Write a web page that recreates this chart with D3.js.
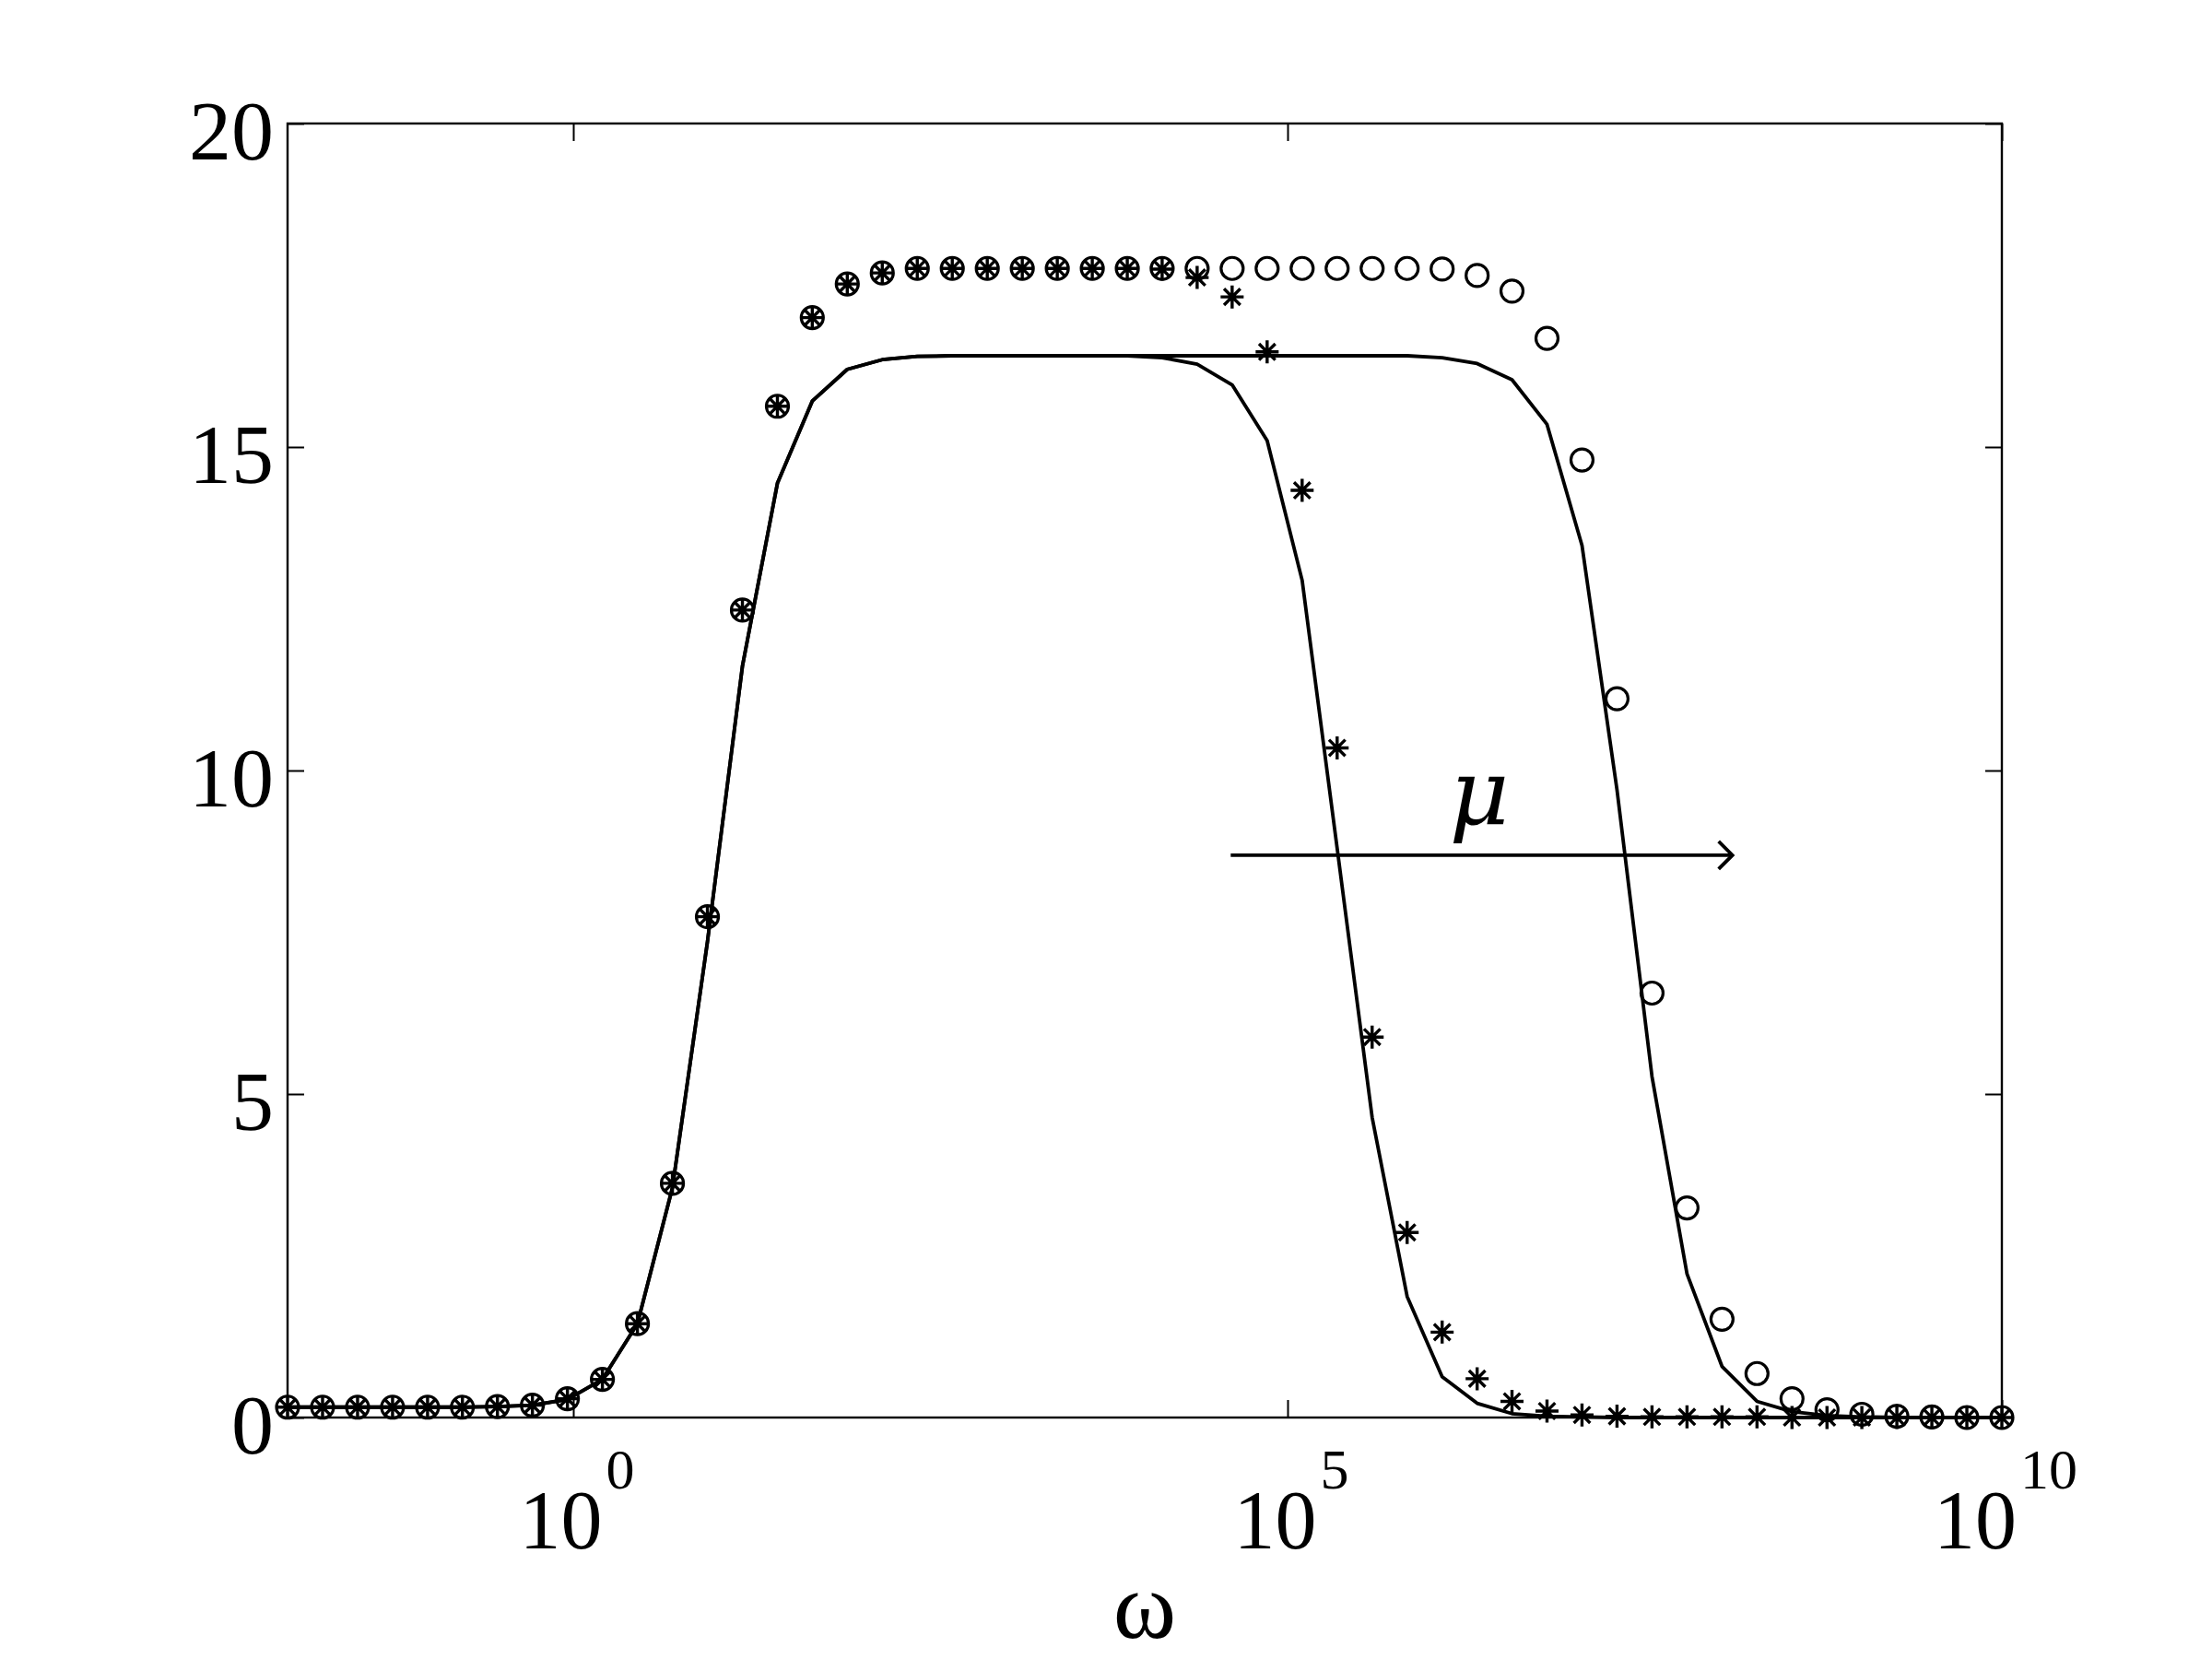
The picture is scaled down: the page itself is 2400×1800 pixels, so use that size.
<!DOCTYPE html>
<html>
<head>
<meta charset="utf-8">
<script src="https://cdn.jsdelivr.net/npm/d3@7"></script>
<style>
    body { margin: 0; background: #fff; }
    text { font-family: "Liberation Serif", "DejaVu Serif", serif; fill: #000; }
</style>
</head>
<body>
<svg id="chart" width="2400" height="1800"></svg>
<script>
const width = 2400;
const height = 1800;
const margin = { top: 134, right: 228, bottom: 262, left: 312 };

// log10(omega) of the sample points
const logOmega = [
    -2.000, -1.755, -1.510, -1.265, -1.020, -0.776, -0.531, -0.286, -0.041, 0.204,
    0.449, 0.694, 0.939, 1.184, 1.429, 1.673, 1.918, 2.163, 2.408, 2.653,
    2.898, 3.143, 3.388, 3.633, 3.878, 4.122, 4.367, 4.612, 4.857, 5.102,
    5.347, 5.592, 5.837, 6.082, 6.327, 6.571, 6.816, 7.061, 7.306, 7.551,
    7.796, 8.041, 8.286, 8.531, 8.776, 9.020, 9.265, 9.510, 9.755, 10.000
];

// markers "*" (smaller mu)
const starVals = [
    0.16, 0.16, 0.16, 0.16, 0.16, 0.16, 0.17, 0.19, 0.29, 0.59,
    1.45, 3.62, 7.74, 12.48, 15.63, 17.0, 17.52, 17.69, 17.76, 17.76,
    17.76, 17.76, 17.76, 17.76, 17.76, 17.75, 17.62, 17.32, 16.47, 14.33,
    10.35, 5.88, 2.86, 1.32, 0.60, 0.25, 0.10, 0.04, 0.02, 0.01,
    0.01, 0.01, 0.01, 0.0, 0.0, 0.0, 0.0, 0.0, 0.0, 0.0
];

// markers "o" (larger mu)
const circleVals = [
    0.16, 0.16, 0.16, 0.16, 0.16, 0.16, 0.17, 0.19, 0.29, 0.59,
    1.45, 3.62, 7.74, 12.48, 15.63, 17.0, 17.52, 17.69, 17.76, 17.76,
    17.76, 17.76, 17.76, 17.76, 17.76, 17.76, 17.76, 17.76, 17.76, 17.76,
    17.76, 17.76, 17.76, 17.75, 17.65, 17.41, 16.68, 14.80, 11.11, 6.56,
    3.24, 1.52, 0.68, 0.29, 0.12, 0.05, 0.02, 0.01, 0.0, 0.0
];

// solid curves
const lineLow = [
    0.16, 0.16, 0.16, 0.16, 0.16, 0.16, 0.17, 0.19, 0.28, 0.59,
    1.45, 3.55, 7.35, 11.61, 14.44, 15.71, 16.20, 16.35, 16.40, 16.41,
    16.41, 16.41, 16.41, 16.41, 16.41, 16.38, 16.28, 15.96, 15.10, 12.94,
    8.80, 4.64, 1.87, 0.63, 0.22, 0.06, 0.02, 0.01, 0.0, 0.0,
    0.0, 0.0, 0.0, 0.0, 0.0, 0.0, 0.0, 0.0, 0.0, 0.0
];
const lineHigh = [
    0.16, 0.16, 0.16, 0.16, 0.16, 0.16, 0.17, 0.19, 0.28, 0.59,
    1.45, 3.55, 7.35, 11.61, 14.44, 15.71, 16.20, 16.35, 16.40, 16.41,
    16.41, 16.41, 16.41, 16.41, 16.41, 16.41, 16.41, 16.41, 16.41, 16.41,
    16.41, 16.41, 16.41, 16.38, 16.29, 16.04, 15.35, 13.48, 9.70, 5.27,
    2.22, 0.79, 0.25, 0.09, 0.03, 0.01, 0.0, 0.0, 0.0, 0.0
];

const xTicks = [1, 1e5, 1e10];
const xTickExp = ["0", "5", "10"];
const yTicks = [0, 5, 10, 15, 20];

// annotation arrow (data coords)
const arrowFrom = [4.0e4, 8.69];
const arrowTo = [1.3e8, 8.69];
const muLabel = [2.2e6, 9.17];

const svg = d3.select("#chart");

svg.append("rect")
    .attr("width", width)
    .attr("height", height)
    .attr("fill", "#fff");

const x = d3.scaleLog()
    .domain([1e-2, 1e10])
    .range([margin.left, width - margin.right]);

const y = d3.scaleLinear()
    .domain([0, 20])
    .range([height - margin.bottom, margin.top]);

const omega = logOmega.map(e => Math.pow(10, e));

// Axes (ticks pointing inward on all four sides)
const gx = svg.append("g")
    .attr("transform", `translate(0,${y(0)})`)
    .call(d3.axisBottom(x).tickValues(xTicks).tickSize(-19).tickFormat(""));
const gxTop = svg.append("g")
    .attr("transform", `translate(0,${y(20)})`)
    .call(d3.axisTop(x).tickValues(xTicks).tickSize(-19).tickFormat(""));
const gy = svg.append("g")
    .attr("transform", `translate(${x(1e-2)},0)`)
    .call(d3.axisLeft(y).tickValues(yTicks).tickSize(-18).tickPadding(15));
const gyRight = svg.append("g")
    .attr("transform", `translate(${x(1e10)},0)`)
    .call(d3.axisRight(y).tickValues(yTicks).tickSize(-18).tickFormat(""));

[gx, gxTop, gy, gyRight].forEach(g => {
    g.select(".domain").remove();
    g.selectAll(".tick line").attr("stroke", "#000").attr("stroke-width", 2);
});

gy.selectAll(".tick text")
    .attr("font-size", 92)
    .attr("dy", "0.42em")
    .style("font-family", "\"Liberation Serif\", serif");

// box
svg.append("rect")
    .attr("x", x(1e-2))
    .attr("y", y(20))
    .attr("width", x(1e10) - x(1e-2))
    .attr("height", y(0) - y(20))
    .attr("fill", "none")
    .attr("stroke", "#000")
    .attr("stroke-width", 2.4);

// x tick labels 10^n
const xl = svg.selectAll(".xlab")
    .data(xTicks)
    .enter()
    .append("text")
    .attr("class", "xlab")
    .attr("x", d => x(d) + 4)
    .attr("y", 1680)
    .attr("text-anchor", "middle")
    .attr("font-size", 90);
xl.append("tspan").text("10");
xl.append("tspan")
    .attr("dx", 4)
    .attr("dy", -65)
    .attr("font-size", 62)
    .text((d, i) => xTickExp[i]);

// x axis label
svg.append("text")
    .attr("x", (x(1e-2) + x(1e10)) / 2)
    .attr("y", 1777)
    .attr("text-anchor", "middle")
    .attr("font-size", 104)
    .text("ω");

// curves
const line = d3.line()
    .x((d, i) => x(omega[i]))
    .y(d => y(d));

[lineLow, lineHigh].forEach(vals => {
    svg.append("path")
        .datum(vals)
        .attr("d", line)
        .attr("fill", "none")
        .attr("stroke", "#000")
        .attr("stroke-width", 3.8)
        .attr("stroke-linejoin", "round");
});

// circle markers
svg.selectAll(".circ")
    .data(circleVals)
    .enter()
    .append("circle")
    .attr("class", "circ")
    .attr("cx", (d, i) => x(omega[i]))
    .attr("cy", d => y(d))
    .attr("r", 12)
    .attr("fill", "none")
    .attr("stroke", "#000")
    .attr("stroke-width", 3.2);

// star markers
function starPath(cx, cy, r) {
    const d = r * Math.SQRT1_2;
    return `M${cx - r},${cy}H${cx + r}M${cx},${cy - r}V${cy + r}` +
        `M${cx - d},${cy - d}L${cx + d},${cy + d}M${cx - d},${cy + d}L${cx + d},${cy - d}`;
}

svg.selectAll(".star")
    .data(starVals)
    .enter()
    .append("path")
    .attr("class", "star")
    .attr("d", (d, i) => starPath(x(omega[i]), y(d), 12.5))
    .attr("fill", "none")
    .attr("stroke", "#000")
    .attr("stroke-width", 3.4);

// mu arrow
const ax0 = x(arrowFrom[0]), ay = y(arrowFrom[1]), ax1 = x(arrowTo[0]);
svg.append("line")
    .attr("x1", ax0).attr("x2", ax1)
    .attr("y1", ay).attr("y2", ay)
    .attr("stroke", "#000")
    .attr("stroke-width", 3.8);
svg.append("path")
    .attr("d", `M${ax1 - 15},${ay - 15}L${ax1},${ay}L${ax1 - 15},${ay + 15}`)
    .attr("fill", "none")
    .attr("stroke", "#000")
    .attr("stroke-width", 3.8);

svg.append("text")
    .attr("x", x(muLabel[0]))
    .attr("y", y(muLabel[1]))
    .attr("text-anchor", "middle")
    .attr("font-size", 100)
    .attr("font-style", "italic")
    .style("font-family", "\"DejaVu Serif\", serif")
    .text("μ");
</script>
</body>
</html>
